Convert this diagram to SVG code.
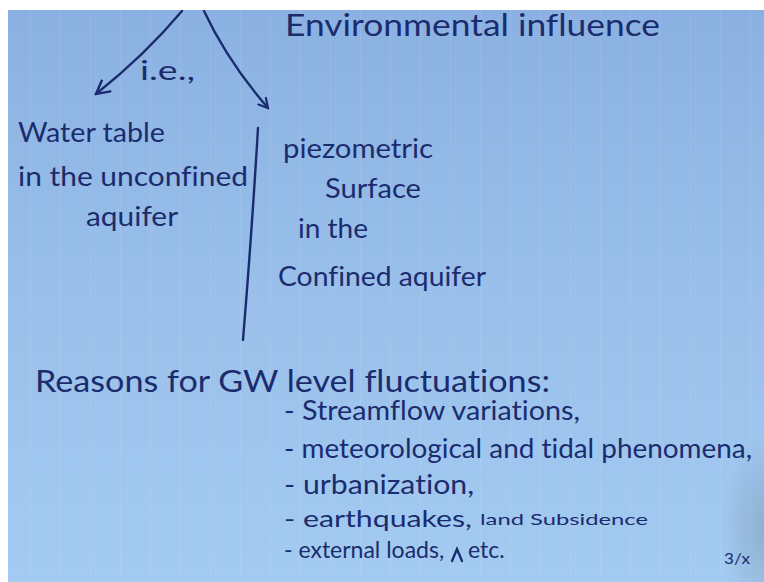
<svg xmlns="http://www.w3.org/2000/svg" width="764" height="582" viewBox="0 0 764 582">
<defs>
<linearGradient id="bg" x1="0" y1="0" x2="0" y2="1">
<stop offset="0" stop-color="#8bb1e2"/>
<stop offset="0.6" stop-color="#9cc2ec"/>
<stop offset="1" stop-color="#a3cbf1"/>
</linearGradient>
<radialGradient id="shade" cx="0.5" cy="0.5" r="0.5">
<stop offset="0" stop-color="#6a7f98" stop-opacity="0.35"/>
<stop offset="1" stop-color="#6a7f98" stop-opacity="0"/>
</radialGradient>
<pattern id="grid" width="30" height="30" patternUnits="userSpaceOnUse">
<path d="M0 0V30" stroke="#ffffff" stroke-opacity="0.07" stroke-width="2"/>
</pattern>
<marker id="ah" viewBox="0 0 12 12" refX="10" refY="6" markerWidth="12" markerHeight="12" markerUnits="userSpaceOnUse" orient="auto">
<path d="M1 1 L10 6 L1 11" fill="none" stroke="#1b2c6e" stroke-width="2.2" stroke-linecap="round"/>
</marker>
<marker id="ah2" viewBox="0 0 16 16" refX="14" refY="8" markerWidth="16" markerHeight="16" markerUnits="userSpaceOnUse" orient="auto">
<path d="M1 1 L14 8 L1 15" fill="none" stroke="#1b2c6e" stroke-width="2.4" stroke-linecap="round"/>
</marker>
</defs>
<style>
.ink{fill:#1b2c6e;font-family:"Lato","Open Sans",sans-serif;font-variant-ligatures:none;}
.t{font-size:30px;}
.m{font-size:26px;}
.n{font-size:23px;}
.s{font-size:16px;}
.line{fill:none;stroke:#1b2c6e;stroke-width:2.4;stroke-linecap:round;}
</style>
<rect x="0" y="0" width="764" height="582" fill="#ffffff"/>
<rect x="8" y="10" width="756" height="572" fill="url(#bg)"/>
<rect x="8" y="10" width="756" height="572" fill="url(#grid)"/>
<ellipse cx="765" cy="530" rx="45" ry="95" fill="url(#shade)"/>

<g id="connectors">
<path class="line" d="M182 11 Q145 55 96 94" marker-end="url(#ah2)"/>
<path class="line" d="M204 11 Q228 62 268 108" marker-end="url(#ah)"/>
<path class="line" d="M258 128 Q252 230 243 340"/>
</g>

<g id="title">
<text class="ink t" x="285" y="36" textLength="375" lengthAdjust="spacingAndGlyphs">Environmental influence</text>
</g>
<g id="ie-label">
<text class="ink m" x="140" y="80" textLength="55" lengthAdjust="spacingAndGlyphs">i.e.,</text>
</g>
<g id="node-unconfined">
<text class="ink m" x="18" y="142" textLength="147" lengthAdjust="spacingAndGlyphs">Water table</text>
<text class="ink m" x="18" y="186" textLength="230" lengthAdjust="spacingAndGlyphs">in the unconfined</text>
<text class="ink m" x="86" y="226" textLength="92" lengthAdjust="spacingAndGlyphs">aquifer</text>
</g>
<g id="node-confined">
<text class="ink m" x="283" y="158" textLength="150" lengthAdjust="spacingAndGlyphs">piezometric</text>
<text class="ink m" x="325" y="198" textLength="96" lengthAdjust="spacingAndGlyphs">Surface</text>
<text class="ink m" x="298" y="238" textLength="70" lengthAdjust="spacingAndGlyphs">in the</text>
<text class="ink m" x="278" y="286" textLength="208" lengthAdjust="spacingAndGlyphs">Confined aquifer</text>
</g>
<g id="reasons">
<text class="ink t" x="35" y="392" textLength="515" lengthAdjust="spacingAndGlyphs">Reasons for GW level fluctuations:</text>
<text class="ink m" x="284" y="420" textLength="296" lengthAdjust="spacingAndGlyphs">- Streamflow variations,</text>
<text class="ink m" x="284" y="458" textLength="468" lengthAdjust="spacingAndGlyphs">- meteorological and tidal phenomena,</text>
<text class="ink m" x="284" y="494" textLength="190" lengthAdjust="spacingAndGlyphs">- urbanization,</text>
<text class="ink n" x="284" y="527" textLength="188" lengthAdjust="spacingAndGlyphs">- earthquakes,</text>
<text class="ink s" x="480" y="525" textLength="168" lengthAdjust="spacingAndGlyphs">land Subsidence</text>
<text class="ink n" x="284" y="558">- external loads,</text>
<path class="line" d="M452 561 L457 549 L462 561" stroke-width="1.8"/>
<text class="ink n" x="468" y="558">etc.</text>
<text class="ink s" x="724" y="564" textLength="26" lengthAdjust="spacingAndGlyphs">3/x</text>
</g>
</svg>
